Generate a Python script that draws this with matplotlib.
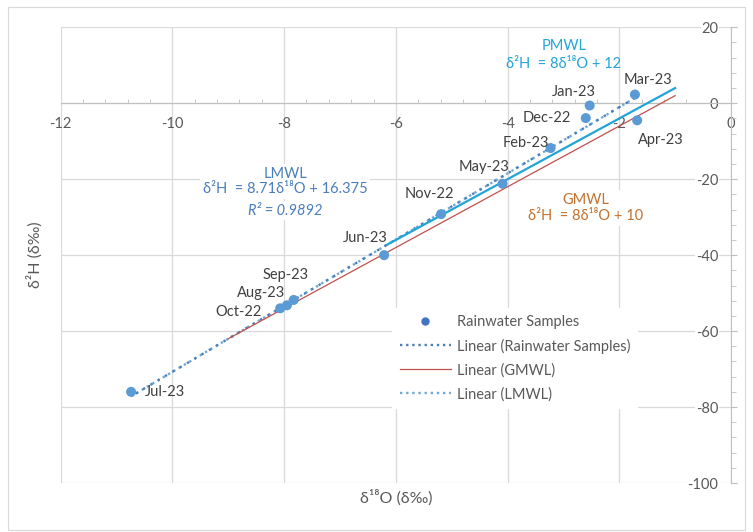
import matplotlib
matplotlib.use("Agg")
import matplotlib.pyplot as plt
from matplotlib.lines import Line2D
from matplotlib.patches import Rectangle
from matplotlib.ticker import MultipleLocator, FixedLocator
import numpy as np

plt.rcParams['font.family'] = ['Lato', 'DejaVu Sans']

# Monthly rainwater isotope samples
months = ['Oct-22', 'Nov-22', 'Dec-22', 'Jan-23', 'Feb-23', 'Mar-23',
          'Apr-23', 'May-23', 'Jun-23', 'Jul-23', 'Aug-23', 'Sep-23']
d18o = [-8.07, -5.19, -2.60, -2.53, -3.23, -1.72,
        -1.68, -4.09, -6.21, -10.74, -7.95, -7.83]
d2h = [-54.0, -29.2, -3.9, -0.6, -11.8, 2.3,
       -4.5, -21.2, -40.0, -76.0, -53.2, -51.8]

# Meteoric water lines: slope, intercept, x-extent
lmwl_slope, lmwl_icpt = 8.71, 16.375
gmwl_slope, gmwl_icpt = 8.0, 10.0
pmwl_slope, pmwl_icpt = 8.0, 12.0
gmwl_span = [-9.0, -1.0]
pmwl_span = [-6.15, -1.0]

x_ticks = [-12, -10, -8, -6, -4, -2, 0]
y_ticks = [-100, -80, -60, -40, -20, 0, 20]

# data-label offsets (pixels) from each sample point
label_offsets = {
    'Oct-22': (-42, -4), 'Nov-22': (-12, 20), 'Dec-22': (-39, 0),
    'Jan-23': (-16, 14), 'Feb-23': (-25, 5), 'Mar-23': (13, 15),
    'Apr-23': (24, -20), 'May-23': (-18, 17), 'Jun-23': (-19, 17),
    'Jul-23': (34, 0), 'Aug-23': (-26, 12), 'Sep-23': (-8, 25),
}

W, H = 753, 532
fig = plt.figure(figsize=(W / 100, H / 100), dpi=100)
fig.patch.set_facecolor('white')
fig.add_artist(Rectangle((8 / W, 2 / H), 737 / W, 523 / H, transform=fig.transFigure,
                         fill=False, edgecolor='#D9D9D9', lw=0.8))

ax = fig.add_axes([60.7 / W, 1 - 483 / H, 670.3 / W, 455.7 / H])
ax.set_xlim(-12, 0)
ax.set_ylim(-100, 20)

grid_c = '#D9D9D9'
axis_c = '#BFBFBF'
tick_c = '#595959'
text_c = '#404040'

ax.xaxis.set_major_locator(FixedLocator(x_ticks))
ax.yaxis.set_major_locator(FixedLocator(y_ticks))
ax.xaxis.set_minor_locator(MultipleLocator(0.4))
ax.yaxis.set_minor_locator(MultipleLocator(4))
ax.grid(True, which='major', color=grid_c, lw=0.9, zorder=0)
ax.set_axisbelow(True)

for s in ['left', 'top']:
    ax.spines[s].set_visible(False)
ax.spines['bottom'].set_position(('data', 0))
ax.spines['bottom'].set_color(axis_c)
ax.spines['right'].set_color(axis_c)

ax.yaxis.tick_right()
ax.tick_params(axis='x', which='major', length=0, pad=10, labelsize=10.5, labelcolor=tick_c)
ax.tick_params(axis='x', which='minor', direction='in', length=3, color=axis_c)
ax.tick_params(axis='y', which='major', direction='out', length=4.5, color=axis_c,
               pad=-13.5, labelsize=10.5, labelcolor=tick_c)
ax.tick_params(axis='y', which='minor', direction='out', length=3.5, color=axis_c)
ax.set_xticklabels([str(v) for v in x_ticks])
ax.set_yticklabels([str(v) for v in y_ticks])
for lab in ax.get_yticklabels():
    lab.set_horizontalalignment('right')
    lab.set_bbox(dict(facecolor='white', edgecolor='none', pad=0.5))

# fitted lines
xr = np.array([min(d18o), max(d18o)])
ax.plot(xr, lmwl_slope * xr + lmwl_icpt, color='#6FA9D6', lw=1.7,
        linestyle=(0, (1, 1.6)), zorder=3)
ax.plot(xr, lmwl_slope * xr + lmwl_icpt, color='#4A7EBB', lw=1.7,
        linestyle=(1.3, (1, 2.6)), zorder=3)
xg = np.array(gmwl_span)
ax.plot(xg, gmwl_slope * xg + gmwl_icpt, color='#C0504D', lw=0.9, zorder=3)
xp = np.array(pmwl_span)
ax.plot(xp, pmwl_slope * xp + pmwl_icpt, color='#21A5D8', lw=1.6, zorder=3)

ax.scatter(d18o, d2h, s=52, color='#5B9BD5', edgecolor='none', zorder=4)

for m, x, y in zip(months, d18o, d2h):
    dx, dy = label_offsets[m]
    ax.annotate(m, (x, y), xytext=(dx, dy), textcoords='offset pixels',
                ha='center', va='center', fontsize=10.5, color=text_c, zorder=5)

box = dict(facecolor='white', edgecolor='none', pad=2)
ax.text(-2.99, 15.2, 'PMWL', color='#21A5D8', fontsize=10.5, ha='center', va='center', zorder=5)
ax.text(-2.99, 10.4, 'δ²H  = 8δ¹⁸O + 12', color='#21A5D8', fontsize=10.5,
        ha='center', va='center', zorder=5)
ax.text(-7.98, -20.6, 'LMWL\nδ²H  = 8.71δ¹⁸O + 16.375', color='#4A7EBB', fontsize=10.5,
        ha='center', va='center', zorder=5, bbox=box, linespacing=1.15)
ax.text(-7.98, -28.3, 'R² = 0.9892', color='#4A7EBB', fontsize=10.5, style='italic',
        ha='center', va='center', zorder=6, bbox=box)
ax.text(-2.6, -27.6, 'GMWL\nδ²H  = 8δ¹⁸O + 10', color='#C4712E', fontsize=10.5,
        ha='center', va='center', zorder=5, bbox=box, linespacing=1.15)

ax.set_xlabel('δ¹⁸O (δ‰)', fontsize=11.5, color=tick_c)
ax.xaxis.set_label_coords(0.5, -0.031)
ax.xaxis.label.set_verticalalignment('center')
ax.yaxis.set_label_position('left')
ax.set_ylabel('δ²H (δ‰)', fontsize=11.5, color=tick_c)
ax.yaxis.set_label_coords(-0.0264, 0.5)

handles = [
    Line2D([], [], marker='o', linestyle='none', markersize=5, color='#4472C4'),
    Line2D([], [], color='#4A7EBB', lw=1.7, linestyle=(0, (1, 1.6))),
    Line2D([], [], color='#C0504D', lw=0.9),
    Line2D([], [], color='#6FA9D6', lw=1.7, linestyle=(0, (1, 1.6))),
]
labels = ['Rainwater Samples', 'Linear (Rainwater Samples)', 'Linear (GMWL)', 'Linear (LMWL)']
leg = ax.legend(handles, labels, loc='upper left', bbox_to_anchor=(0.484, 0.401),
                fontsize=10.5, handlelength=3.5, handletextpad=0.45, labelspacing=0.66,
                frameon=True, fancybox=False, framealpha=1, borderpad=0.5,
                labelcolor=tick_c)
leg.get_frame().set_facecolor('white')
leg.get_frame().set_edgecolor('none')
leg.set_zorder(6)

fig.savefig('out.png', dpi=100)
